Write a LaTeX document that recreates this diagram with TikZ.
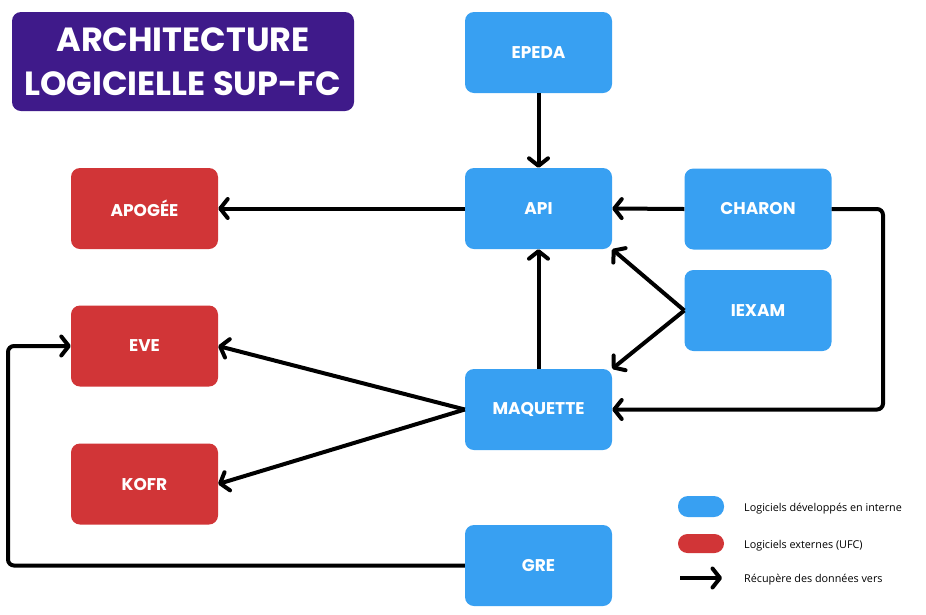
\documentclass[tikz,border=0pt]{standalone}
\usepackage{fontspec}
\setmainfont{Open Sans}
\newfontfamily\pop{Poppins}
\usetikzlibrary{arrows.meta}
\definecolor{bluebox}{HTML}{38A0F2}
\definecolor{redbox}{HTML}{D13537}
\definecolor{titlebg}{HTML}{3F1A8A}
\begin{document}
\begin{tikzpicture}[x=1pt,y=-1pt,
  box/.style={rounded corners=9pt, minimum width=147pt, minimum height=81pt, text=white, font=\pop\bfseries\fontsize{17}{19}\selectfont, inner sep=0pt},
  intbox/.style={box, fill=bluebox},
  extbox/.style={box, fill=redbox},
  conn/.style={line width=4pt, -{Straight Barb[length=7.5pt,width=19pt,round]}, rounded corners=6pt},
  legtext/.style={anchor=west, font=\fontsize{10.8}{13}\selectfont, inner sep=0pt}]
\useasboundingbox (0,0) rectangle (926,614);
\fill[white] (0,0) rectangle (926,614);
\node[fill=titlebg, rounded corners=9pt, minimum width=342pt, minimum height=99pt, text=white, font=\pop\bfseries\fontsize{33.5}{44}\selectfont, align=center, inner sep=0pt] (title) at (183,61.5) {ARCHITECTURE\\LOGICIELLE SUP-FC};
\node[intbox] (epeda) at (538.5,52.5) {EPEDA};
\node[intbox] (api) at (538.5,208.5) {API};
\node[intbox] (charon) at (758,209) {CHARON};
\node[intbox] (iexam) at (758,310.5) {IEXAM};
\node[intbox] (maquette) at (538.5,409.5) {MAQUETTE};
\node[intbox] (gre) at (538.5,565.5) {GRE};
\node[extbox] (apogee) at (144.5,208.5) {APOGÉE};
\node[extbox] (eve) at (144.5,346) {EVE};
\node[extbox] (kofr) at (144.5,484) {KOFR};
% legend
\node[fill=bluebox, rounded corners=10pt, minimum width=46pt, minimum height=21pt, inner sep=0pt] (legint) at (701,506.5) {};
\node[fill=redbox, rounded corners=9.5pt, minimum width=46pt, minimum height=19pt, inner sep=0pt] (legext) at (701,543.5) {};
\coordinate (la1) at (680,578);
\coordinate (la2) at (722,578);
\node[legtext] (lt1) at (744,508.5) {Logiciels développés en interne};
\node[legtext] (lt2) at (744,545.5) {Logiciels externes (UFC)};
\node[legtext] (lt3) at (744,579.5) {Récupère des données vers};
\draw[conn] (la1) -- (la2);
% connectors
\coordinate (cr) at (883,209);
\coordinate (gl) at (8,565.5);
\draw[conn] (epeda) -- (api);
\draw[conn] (api) -- (apogee);
\draw[conn] (charon.west) -- (api.east);
\draw[conn] (charon.east) -- (cr) |- (maquette.east);
\draw[conn] (iexam.west) -- (api.south east);
\draw[conn] (iexam.west) -- (maquette.north east);
\draw[conn] (maquette) -- (api);
\draw[conn] (maquette.west) -- (eve.east);
\draw[conn] (maquette.west) -- (kofr.east);
\draw[conn] (gre.west) -- (gl) |- (eve.west);
\end{tikzpicture}
\end{document}
